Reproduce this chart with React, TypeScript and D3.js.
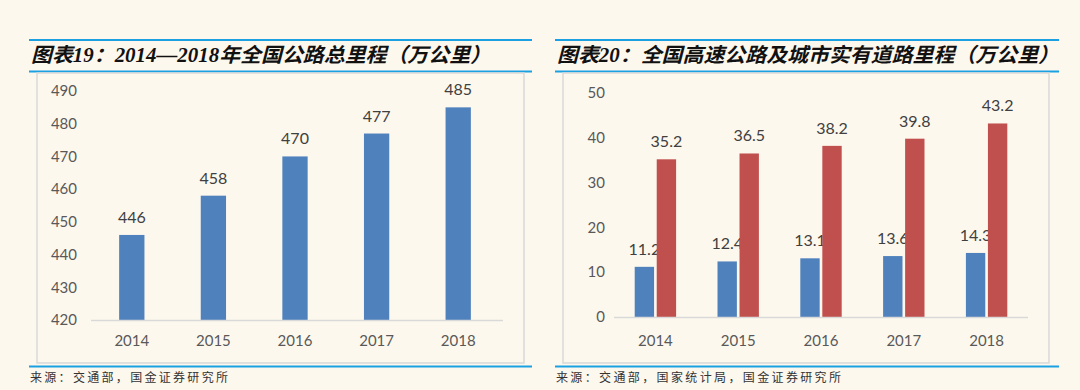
import * as d3 from 'd3';

const years = ['2014', '2015', '2016', '2017', '2018'];
const totalRoad = [446, 458, 470, 477, 485];
const highway = [11.2, 12.4, 13.1, 13.6, 14.3];
const cityRoad = [35.2, 36.5, 38.2, 39.8, 43.2];
const leftTicks = [420, 430, 440, 450, 460, 470, 480, 490];
const rightTicks = [0, 10, 20, 30, 40, 50];

const leftTitle = '图表19：2014—2018年全国公路总里程（万公里）';
const rightTitle = '图表20：全国高速公路及城市实有道路里程（万公里）';
const leftSource = '来源：交通部，国金证券研究所';
const rightSource = '来源：交通部，国家统计局，国金证券研究所';

const bg = '#fdf8ee';
const lineBlue = '#1ba1e2';
const blue = '#4f81bd';
const red = '#c0504d';
const textGray = '#595959';
const axisGray = '#d9d9d9';
const tickFont = 'Lato, "Open Sans", sans-serif';
const titleFont = '"Liberation Serif", "Noto Sans CJK SC", serif';

function Frame({ x0, x1, bx0, bx1, title, titleLen, source, sourceLen }: any) {
  return (
    <g>
      <line x1={x0} x2={x1} y1={40} y2={40} stroke={lineBlue} strokeWidth={2} />
      <text x={x0 + 2} y={62} fontFamily={titleFont} fontSize={20} fontWeight="bold"
        fontStyle="italic" fill="#111" textLength={titleLen} lengthAdjust="spacingAndGlyphs">{title}</text>
      <line x1={x0} x2={x1} y1={71.5} y2={71.5} stroke={lineBlue} strokeWidth={2} />
      <rect x={bx0} y={73} width={bx1 - bx0} height={290} fill="none" stroke={axisGray} strokeWidth={1.5} />
      <line x1={x0} x2={x1} y1={366.5} y2={366.5} stroke={lineBlue} strokeWidth={2} />
      <text x={x0 + 1} y={382} fontFamily='"Noto Sans CJK SC", sans-serif' fontSize={12}
        fill="#333" textLength={sourceLen} lengthAdjust="spacing">{source}</text>
    </g>
  );
}

function LeftChart() {
  const x = d3.scaleBand().domain(years).range([91, 499]).paddingInner(0.69).paddingOuter(0.345);
  const y = d3.scaleLinear().domain([420, 490]).range([320, 91]);
  return (
    <g>
      <Frame x0={29} x1={532} bx0={37} bx1={524} title={leftTitle} titleLen={460}
        source={leftSource} sourceLen={198} />
      {leftTicks.map(t => (
        <text key={t} x={77} y={y(t)} dy="0.35em" textAnchor="end" fontFamily={tickFont}
          fontSize={15} fill={textGray}>{t}</text>
      ))}
      {years.map((yr, i) => (
        <g key={yr}>
          <rect x={x(yr)} y={y(totalRoad[i])} width={x.bandwidth()} height={y(420) - y(totalRoad[i])} fill={blue} />
          <text x={x(yr)! + x.bandwidth() / 2} y={y(totalRoad[i]) - 12} textAnchor="middle"
            fontFamily={tickFont} fontSize={16} fill="#404040">{totalRoad[i]}</text>
          <text x={x(yr)! + x.bandwidth() / 2} y={341} dy="0.35em" textAnchor="middle"
            fontFamily={tickFont} fontSize={15} fill={textGray}>{yr}</text>
        </g>
      ))}
      <line x1={91} x2={503} y1={y(420) + 0.5} y2={y(420) + 0.5} stroke={axisGray} strokeWidth={1.5} />
    </g>
  );
}

function RightChart() {
  const x0 = d3.scaleBand().domain(years).range([614, 1028]).paddingInner(0.5).paddingOuter(0.25);
  const x1 = d3.scaleBand().domain(['hw', 'city']).range([0, x0.bandwidth()]).paddingInner(0.12);
  const y = d3.scaleLinear().domain([0, 50]).range([317, 93]);
  const series = [
    { key: 'hw', values: highway, color: blue },
    { key: 'city', values: cityRoad, color: red },
  ];
  return (
    <g>
      <Frame x0={555} x1={1059} bx0={563} bx1={1049} title={rightTitle} titleLen={502}
        source={rightSource} sourceLen={285} />
      {rightTicks.map(t => (
        <text key={t} x={605} y={y(t)} dy="0.35em" textAnchor="end" fontFamily={tickFont}
          fontSize={15} fill={textGray}>{t}</text>
      ))}
      {years.map((yr, i) => (
        <g key={yr}>
          {series.map(s => {
            const bx = x0(yr)! + x1(s.key)!;
            const v = s.values[i];
            return (
              <g key={s.key}>
                <rect x={bx} y={y(v)} width={x1.bandwidth()} height={y(0) - y(v)} fill={s.color} />
                <text x={bx + x1.bandwidth() / 2} y={y(v) - 12} textAnchor="middle"
                  fontFamily={tickFont} fontSize={16} fill="#404040">{v.toFixed(1)}</text>
              </g>
            );
          })}
          <text x={x0(yr)! + x0.bandwidth() / 2} y={341} dy="0.35em" textAnchor="middle"
            fontFamily={tickFont} fontSize={15} fill={textGray}>{yr}</text>
        </g>
      ))}
      <line x1={614} x2={1028} y1={y(0) + 0.5} y2={y(0) + 0.5} stroke={axisGray} strokeWidth={1.5} />
    </g>
  );
}

export default function App() {
  return (
    <div style={{ position: 'absolute', left: 0, top: 0 }}>
      <svg width={1080} height={390} style={{ display: 'block' }}>
        <rect width={1080} height={390} fill={bg} />
        <LeftChart />
        <RightChart />
      </svg>
    </div>
  );
}
